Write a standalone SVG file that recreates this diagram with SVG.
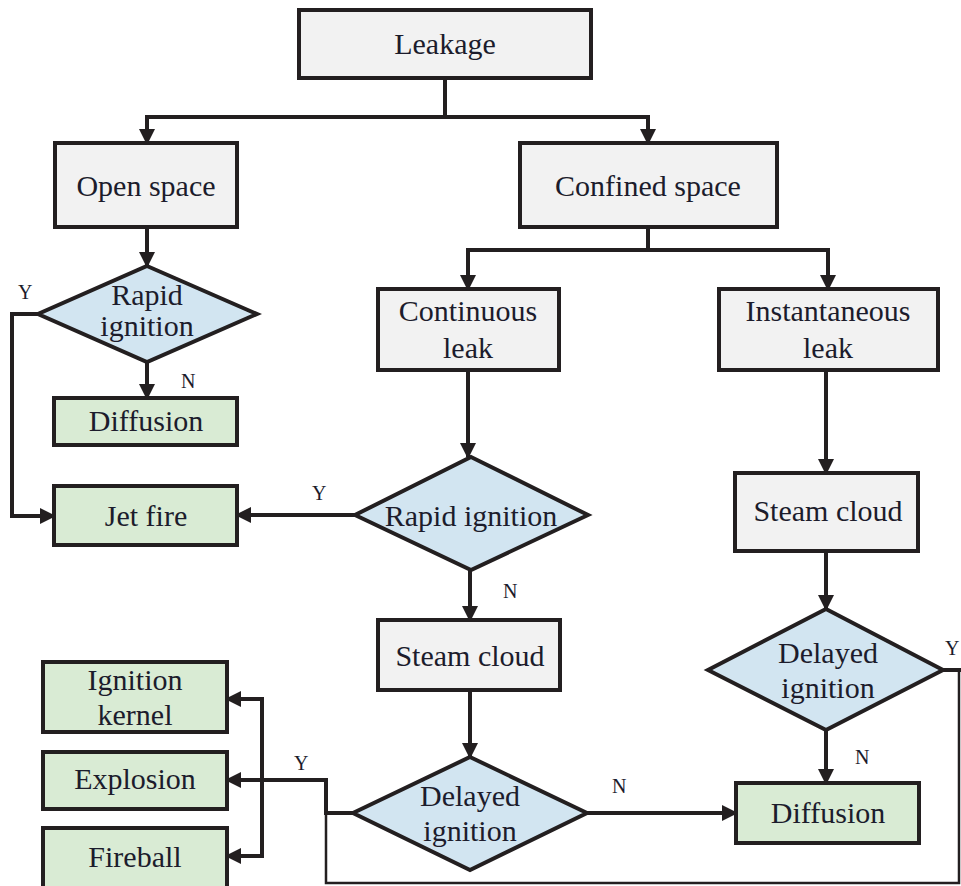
<svg xmlns="http://www.w3.org/2000/svg" width="961" height="886" viewBox="0 0 961 886">
<style>
.box{fill:#f2f2f2;stroke:#231f20;stroke-width:4}
.res{fill:#d9ebd4;stroke:#231f20;stroke-width:4}
.dec{fill:#d2e5f1;stroke:#231f20;stroke-width:4}
.t{font-family:"Liberation Serif","Times New Roman",serif;font-size:30px;fill:#1c1c2c;text-anchor:middle}
.l{font-family:"Liberation Serif","Times New Roman",serif;font-size:20px;fill:#1c1c2c}
.c{fill:none;stroke:#231f20;stroke-width:4}
.thin{fill:none;stroke:#231f20;stroke-width:2.5}
</style>
<defs>
<marker id="ah" markerUnits="userSpaceOnUse" markerWidth="18" markerHeight="18" refX="14" refY="8" orient="auto" viewBox="0 0 18 18">
<path d="M0,0 L16,8 L0,16 z" fill="#231f20"/>
</marker>
</defs>
<rect width="961" height="886" fill="#ffffff"/>
<g id="connectors">
<path class="c" d="M445 79 V117 H147 V143" marker-end="url(#ah)"/>
<path class="c" d="M445 117 H648 V143" marker-end="url(#ah)"/>
<path class="c" d="M147 227 V266" marker-end="url(#ah)"/>
<path class="c" d="M38 314 H12 V516 H54" marker-end="url(#ah)"/>
<path class="c" d="M147 362 V398" marker-end="url(#ah)"/>
<path class="c" d="M648 227 V250 H468 V289" marker-end="url(#ah)"/>
<path class="c" d="M648 250 H828 V289" marker-end="url(#ah)"/>
<path class="c" d="M468 370 V457" marker-end="url(#ah)"/>
<path class="c" d="M355 515 H237" marker-end="url(#ah)"/>
<path class="c" d="M470 570 V620" marker-end="url(#ah)"/>
<path class="c" d="M470 690 V757" marker-end="url(#ah)"/>
<path class="c" d="M587 813 H736" marker-end="url(#ah)"/>
<path class="c" d="M353 813 H326 V780 H227" marker-end="url(#ah)"/>
<path class="thin" d="M326 800 V883 H959 V670 H943"/>
<path class="c" d="M262 780 V699 H227" marker-end="url(#ah)"/>
<path class="c" d="M262 780 V856 H227" marker-end="url(#ah)"/>
<path class="c" d="M826 370 V473" marker-end="url(#ah)"/>
<path class="c" d="M826 551 V609" marker-end="url(#ah)"/>
<path class="c" d="M826 730 V783" marker-end="url(#ah)"/>
<path class="c" d="M943 670 H961"/>
<text class="l" x="18" y="299">Y</text>
<text class="l" x="181" y="388">N</text>
<text class="l" x="312" y="500">Y</text>
<text class="l" x="503" y="598">N</text>
<text class="l" x="294" y="770">Y</text>
<text class="l" x="612" y="793">N</text>
<text class="l" x="855" y="764">N</text>
<text class="l" x="945" y="655">Y</text>
</g>
<g id="leakage"><rect class="box" x="299" y="10" width="292" height="68"/><text class="t" x="445" y="54">Leakage</text></g>
<g id="open-space"><rect class="box" x="55" y="143" width="182" height="84"/><text class="t" x="146" y="196">Open space</text></g>
<g id="confined-space"><rect class="box" x="520" y="143" width="257" height="84"/><text class="t" x="648" y="196">Confined space</text></g>
<g id="rapid-ignition-1"><polygon class="dec" points="147,266 257,314 147,362 38,314"/><text class="t" x="147" y="305">Rapid</text><text class="t" x="147" y="336">ignition</text></g>
<g id="diffusion-1"><rect class="res" x="54" y="398" width="183" height="47"/><text class="t" x="146" y="431">Diffusion</text></g>
<g id="jet-fire"><rect class="res" x="54" y="486" width="183" height="59"/><text class="t" x="146" y="526">Jet fire</text></g>
<g id="continuous-leak"><rect class="box" x="378" y="289" width="181" height="81"/><text class="t" x="468" y="321">Continuous</text><text class="t" x="468" y="358">leak</text></g>
<g id="instantaneous-leak"><rect class="box" x="719" y="289" width="219" height="81"/><text class="t" x="828" y="321">Instantaneous</text><text class="t" x="828" y="358">leak</text></g>
<g id="rapid-ignition-2"><polygon class="dec" points="471,457 588,515 471,570 355,515"/><text class="t" x="471" y="526">Rapid ignition</text></g>
<g id="steam-cloud-1"><rect class="box" x="378" y="620" width="182" height="70"/><text class="t" x="470" y="666">Steam cloud</text></g>
<g id="delayed-ignition-1"><polygon class="dec" points="470,757 587,813 470,870 353,813"/><text class="t" x="470" y="806">Delayed</text><text class="t" x="470" y="841">ignition</text></g>
<g id="steam-cloud-2"><rect class="box" x="735" y="473" width="183" height="78"/><text class="t" x="828" y="521">Steam cloud</text></g>
<g id="delayed-ignition-2"><polygon class="dec" points="826,609 943,670 826,730 708,670"/><text class="t" x="828" y="663">Delayed</text><text class="t" x="828" y="698">ignition</text></g>
<g id="diffusion-2"><rect class="res" x="736" y="783" width="183" height="60"/><text class="t" x="828" y="823">Diffusion</text></g>
<g id="ignition-kernel"><rect class="res" x="43" y="662" width="184" height="70"/><text class="t" x="135" y="690">Ignition</text><text class="t" x="135" y="725">kernel</text></g>
<g id="explosion"><rect class="res" x="43" y="752" width="184" height="57"/><text class="t" x="135" y="789">Explosion</text></g>
<g id="fireball"><rect class="res" x="43" y="828" width="184" height="62"/><text class="t" x="135" y="867">Fireball</text></g>
</svg>
